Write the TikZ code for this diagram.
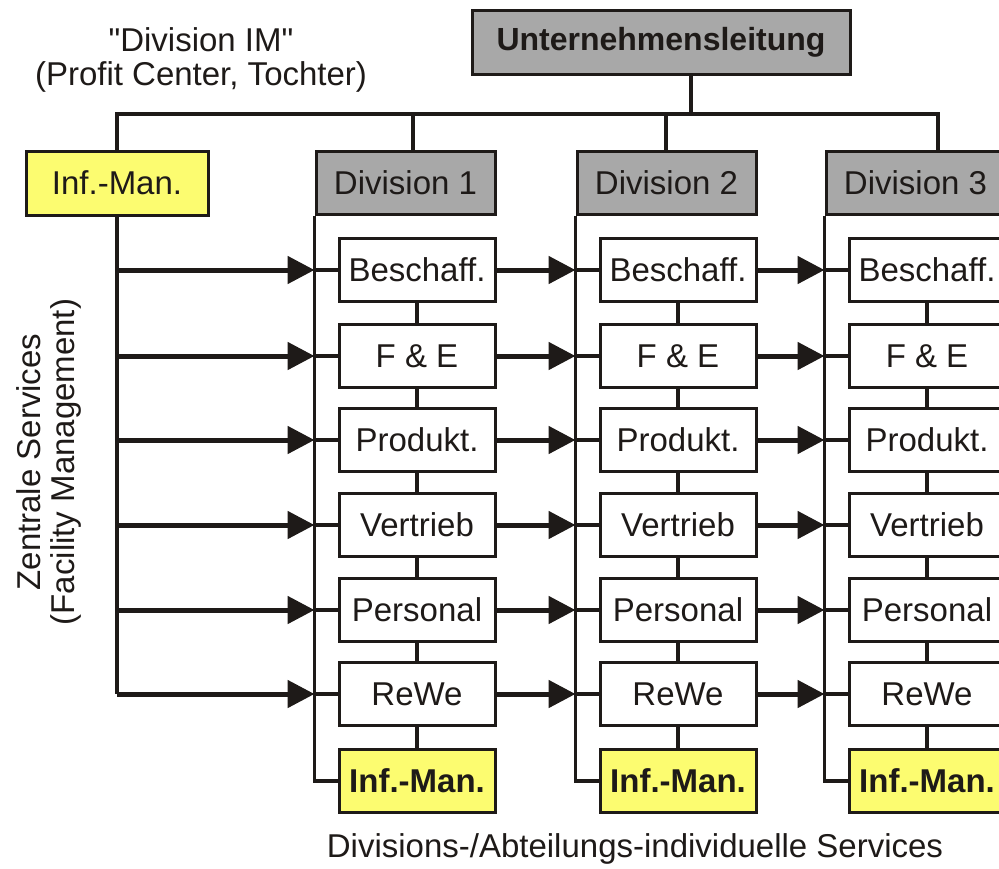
\documentclass[tikz,border=0pt]{standalone}
\usepackage{fontspec}
\setmainfont{Liberation Sans}
\newfontfamily\plainfont{Liberation Sans}
\usetikzlibrary{arrows.meta}
\definecolor{imyellow}{HTML}{FCFC70}
\definecolor{divgray}{HTML}{A8A8A8}
\definecolor{ink}{HTML}{1E1A18}
\tikzset{
  boxbase/.style={draw=ink,line width=3pt,inner sep=0pt,text=ink,font=\fontsize{33}{35}\selectfont},
  subbox/.style={boxbase,fill=white,minimum width=156pt,minimum height=63pt},
  divbox/.style={boxbase,fill=divgray,minimum width=179pt,minimum height=63pt},
  imbox/.style={boxbase,fill=imyellow,minimum width=156pt,minimum height=63pt,font=\fontsize{33}{35}\selectfont\bfseries},
  conn/.style={draw=ink,line width=3.5pt},
  arr/.style={draw=ink,line width=5pt,-{Triangle[length=27pt,width=27pt]}},
  lbl/.style={text=ink,font=\fontsize{33}{34}\selectfont,align=center,inner sep=0pt}
}
\begin{document}
\begin{tikzpicture}[x=1pt,y=-1pt]
\useasboundingbox (0,0) rectangle (999,868);
% top
\node[boxbase,fill=divgray,minimum width=378pt,minimum height=64pt,font=\fontsize{32}{34}\selectfont\bfseries] (ul) at (661,42) {Unternehmensleitung};
\node[boxbase,fill=imyellow,minimum width=182pt,minimum height=64pt] (im) at (117,183) {Inf.-Man.};
\node[divbox] (d1) at (405.5,183) {Division 1};
\node[divbox] (d2) at (666.5,183) {Division 2};
\node[divbox] (d3) at (915.5,183) {Division 3};
\coordinate (hl) at (691,114);
\coordinate (hd1) at (413,114);
\coordinate (hd2) at (666,114);
\coordinate (hd3) at (938,114);
\draw[conn] (ul.south -| hl) -- (hl);
\draw[conn] (im.north) |- (hd3) -- (hd3 |- d3.north);
\draw[conn] (hd1) -- (hd1 |- d1.north);
\draw[conn] (hd2) -- (hd2 |- d2.north);
% labels
\node[lbl] (dim) at (201,60) {{\plainfont"}Division IM{\plainfont"}\\(Profit Center, Tochter)};
\node[lbl,rotate=90] (zs) at (49,462) {Zentrale Services\\(Facility Management)};
\node[lbl] (dav) at (635,849) {Divisions-/Abteilungs-individuelle Services};
% columns
\foreach \c/\x in {1/417,2/678,3/927}{
  \node[subbox] (c\c r1) at (\x,270) {Beschaff.};
  \node[subbox] (c\c r2) at (\x,356) {F \& E};
  \node[subbox] (c\c r3) at (\x,440) {Produkt.};
  \node[subbox] (c\c r4) at (\x,525) {Vertrieb};
  \node[subbox] (c\c r5) at (\x,610) {Personal};
  \node[subbox] (c\c r6) at (\x,694) {ReWe};
  \node[imbox]  (c\c r7) at (\x,781) {Inf.-Man.};
  \draw[conn] (d\c.south west) |- (c\c r7.west);
  \foreach \r in {1,...,6}{
    \draw[conn] (c\c r\r.west) -- (c\c r\r.west -| d\c.south west);
  }
  \foreach \r/\s in {1/2,2/3,3/4,4/5,5/6,6/7}{
    \draw[conn] (c\c r\r.south) -- (c\c r\s.north);
  }
}
% arrows
\draw[conn] (im.south) -- (im.south |- c1r6.west);
\foreach \r in {1,...,6}{
  \draw[arr] (im.south |- c1r\r.west) -- (c1r\r.west -| d1.south west);
  \draw[arr] (c1r\r.east) -- (c1r\r.east -| d2.south west);
  \draw[arr] (c2r\r.east) -- (c2r\r.east -| d3.south west);
}
\end{tikzpicture}
\end{document}
